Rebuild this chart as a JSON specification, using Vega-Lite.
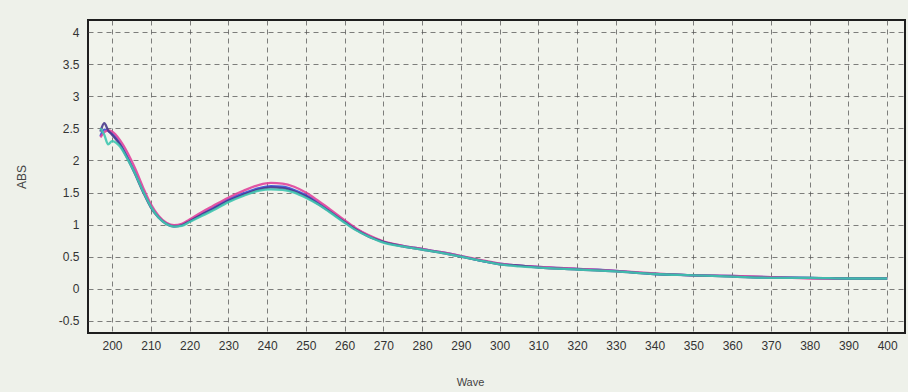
{
  "$schema": "https://vega.github.io/schema/vega-lite/v6.json",
  "width": 817,
  "height": 313,
  "autosize": {"type": "none"},
  "padding": {"left": 88, "top": 20, "right": 3, "bottom": 59},
  "background": "#eef1ea",
  "config": {
    "view": {"stroke": "#1e1e1e", "strokeWidth": 2, "fill": "#f1f3ec"},
    "axis": {
      "labelFont": "Liberation Sans",
      "titleFont": "Liberation Sans",
      "labelColor": "#333333",
      "titleColor": "#444444",
      "titleFontWeight": "normal",
      "gridColor": "#555555",
      "gridDash": [5, 4],
      "gridOpacity": 0.75,
      "gridWidth": 1,
      "domain": false,
      "ticks": false
    }
  },
  "data": {
    "values": [
      {"w":197,"a":2.38,"s":"B"},{"w":198,"a":2.48,"s":"B"},{"w":199,"a":2.46,"s":"B"},{"w":200,"a":2.42,"s":"B"},{"w":202,"a":2.27,"s":"B"},{"w":204,"a":2.05,"s":"B"},{"w":206,"a":1.80,"s":"B"},{"w":208,"a":1.53,"s":"B"},{"w":210,"a":1.29,"s":"B"},{"w":212,"a":1.12,"s":"B"},{"w":214,"a":1.02,"s":"B"},{"w":216,"a":0.98,"s":"B"},{"w":218,"a":1.00,"s":"B"},{"w":220,"a":1.06,"s":"B"},{"w":223,"a":1.16,"s":"B"},{"w":226,"a":1.26,"s":"B"},{"w":230,"a":1.39,"s":"B"},{"w":234,"a":1.49,"s":"B"},{"w":238,"a":1.57,"s":"B"},{"w":241,"a":1.60,"s":"B"},{"w":244,"a":1.59,"s":"B"},{"w":247,"a":1.54,"s":"B"},{"w":250,"a":1.46,"s":"B"},{"w":253,"a":1.35,"s":"B"},{"w":256,"a":1.22,"s":"B"},{"w":260,"a":1.05,"s":"B"},{"w":263,"a":0.93,"s":"B"},{"w":266,"a":0.83,"s":"B"},{"w":270,"a":0.73,"s":"B"},{"w":275,"a":0.67,"s":"B"},{"w":280,"a":0.62,"s":"B"},{"w":285,"a":0.57,"s":"B"},{"w":290,"a":0.51,"s":"B"},{"w":295,"a":0.44,"s":"B"},{"w":300,"a":0.39,"s":"B"},{"w":305,"a":0.36,"s":"B"},{"w":310,"a":0.34,"s":"B"},{"w":320,"a":0.31,"s":"B"},{"w":330,"a":0.28,"s":"B"},{"w":340,"a":0.23,"s":"B"},{"w":350,"a":0.21,"s":"B"},{"w":360,"a":0.20,"s":"B"},{"w":370,"a":0.18,"s":"B"},{"w":380,"a":0.17,"s":"B"},{"w":390,"a":0.16,"s":"B"},{"w":400,"a":0.16,"s":"B"},
      {"w":197,"a":2.36,"s":"P"},{"w":198,"a":2.44,"s":"P"},{"w":199,"a":2.47,"s":"P"},{"w":200,"a":2.45,"s":"P"},{"w":202,"a":2.32,"s":"P"},{"w":204,"a":2.12,"s":"P"},{"w":206,"a":1.87,"s":"P"},{"w":208,"a":1.58,"s":"P"},{"w":210,"a":1.32,"s":"P"},{"w":212,"a":1.14,"s":"P"},{"w":214,"a":1.03,"s":"P"},{"w":216,"a":0.99,"s":"P"},{"w":218,"a":1.01,"s":"P"},{"w":220,"a":1.08,"s":"P"},{"w":223,"a":1.19,"s":"P"},{"w":226,"a":1.29,"s":"P"},{"w":230,"a":1.42,"s":"P"},{"w":234,"a":1.53,"s":"P"},{"w":238,"a":1.62,"s":"P"},{"w":241,"a":1.65,"s":"P"},{"w":244,"a":1.64,"s":"P"},{"w":247,"a":1.59,"s":"P"},{"w":250,"a":1.50,"s":"P"},{"w":253,"a":1.38,"s":"P"},{"w":256,"a":1.25,"s":"P"},{"w":260,"a":1.07,"s":"P"},{"w":263,"a":0.94,"s":"P"},{"w":266,"a":0.84,"s":"P"},{"w":270,"a":0.74,"s":"P"},{"w":275,"a":0.67,"s":"P"},{"w":280,"a":0.62,"s":"P"},{"w":285,"a":0.57,"s":"P"},{"w":290,"a":0.51,"s":"P"},{"w":295,"a":0.45,"s":"P"},{"w":300,"a":0.39,"s":"P"},{"w":305,"a":0.36,"s":"P"},{"w":310,"a":0.34,"s":"P"},{"w":320,"a":0.31,"s":"P"},{"w":330,"a":0.28,"s":"P"},{"w":340,"a":0.24,"s":"P"},{"w":350,"a":0.21,"s":"P"},{"w":360,"a":0.20,"s":"P"},{"w":370,"a":0.18,"s":"P"},{"w":380,"a":0.16,"s":"P"},{"w":390,"a":0.16,"s":"P"},{"w":400,"a":0.16,"s":"P"},
      {"w":197,"a":2.45,"s":"N"},{"w":198,"a":2.58,"s":"N"},{"w":199,"a":2.47,"s":"N"},{"w":200,"a":2.40,"s":"N"},{"w":202,"a":2.25,"s":"N"},{"w":204,"a":2.03,"s":"N"},{"w":206,"a":1.78,"s":"N"},{"w":208,"a":1.51,"s":"N"},{"w":210,"a":1.27,"s":"N"},{"w":212,"a":1.11,"s":"N"},{"w":214,"a":1.01,"s":"N"},{"w":216,"a":0.97,"s":"N"},{"w":218,"a":0.99,"s":"N"},{"w":220,"a":1.05,"s":"N"},{"w":223,"a":1.15,"s":"N"},{"w":226,"a":1.24,"s":"N"},{"w":230,"a":1.37,"s":"N"},{"w":234,"a":1.47,"s":"N"},{"w":238,"a":1.55,"s":"N"},{"w":241,"a":1.58,"s":"N"},{"w":244,"a":1.57,"s":"N"},{"w":247,"a":1.52,"s":"N"},{"w":250,"a":1.44,"s":"N"},{"w":253,"a":1.33,"s":"N"},{"w":256,"a":1.21,"s":"N"},{"w":260,"a":1.04,"s":"N"},{"w":263,"a":0.92,"s":"N"},{"w":266,"a":0.82,"s":"N"},{"w":270,"a":0.73,"s":"N"},{"w":275,"a":0.66,"s":"N"},{"w":280,"a":0.61,"s":"N"},{"w":285,"a":0.56,"s":"N"},{"w":290,"a":0.50,"s":"N"},{"w":295,"a":0.44,"s":"N"},{"w":300,"a":0.38,"s":"N"},{"w":305,"a":0.36,"s":"N"},{"w":310,"a":0.33,"s":"N"},{"w":320,"a":0.30,"s":"N"},{"w":330,"a":0.27,"s":"N"},{"w":340,"a":0.23,"s":"N"},{"w":350,"a":0.21,"s":"N"},{"w":360,"a":0.19,"s":"N"},{"w":370,"a":0.17,"s":"N"},{"w":380,"a":0.17,"s":"N"},{"w":390,"a":0.16,"s":"N"},{"w":400,"a":0.16,"s":"N"},
      {"w":197,"a":2.50,"s":"T"},{"w":198,"a":2.40,"s":"T"},{"w":199,"a":2.25,"s":"T"},{"w":200,"a":2.30,"s":"T"},{"w":202,"a":2.22,"s":"T"},{"w":204,"a":2.02,"s":"T"},{"w":206,"a":1.79,"s":"T"},{"w":208,"a":1.52,"s":"T"},{"w":210,"a":1.28,"s":"T"},{"w":212,"a":1.11,"s":"T"},{"w":214,"a":1.01,"s":"T"},{"w":216,"a":0.97,"s":"T"},{"w":218,"a":0.98,"s":"T"},{"w":220,"a":1.04,"s":"T"},{"w":223,"a":1.13,"s":"T"},{"w":226,"a":1.22,"s":"T"},{"w":230,"a":1.35,"s":"T"},{"w":234,"a":1.45,"s":"T"},{"w":238,"a":1.53,"s":"T"},{"w":241,"a":1.55,"s":"T"},{"w":244,"a":1.54,"s":"T"},{"w":247,"a":1.50,"s":"T"},{"w":250,"a":1.42,"s":"T"},{"w":253,"a":1.32,"s":"T"},{"w":256,"a":1.20,"s":"T"},{"w":260,"a":1.03,"s":"T"},{"w":263,"a":0.91,"s":"T"},{"w":266,"a":0.82,"s":"T"},{"w":270,"a":0.72,"s":"T"},{"w":275,"a":0.66,"s":"T"},{"w":280,"a":0.61,"s":"T"},{"w":285,"a":0.56,"s":"T"},{"w":290,"a":0.50,"s":"T"},{"w":295,"a":0.44,"s":"T"},{"w":300,"a":0.38,"s":"T"},{"w":305,"a":0.35,"s":"T"},{"w":310,"a":0.33,"s":"T"},{"w":320,"a":0.30,"s":"T"},{"w":330,"a":0.27,"s":"T"},{"w":340,"a":0.23,"s":"T"},{"w":350,"a":0.21,"s":"T"},{"w":360,"a":0.19,"s":"T"},{"w":370,"a":0.17,"s":"T"},{"w":380,"a":0.17,"s":"T"},{"w":390,"a":0.16,"s":"T"},{"w":400,"a":0.16,"s":"T"}
    ]
  },
  "mark": {"type": "line", "strokeWidth": 2.3, "interpolate": "monotone", "clip": true, "opacity": 0.9},
  "encoding": {
    "x": {
      "field": "w",
      "type": "quantitative",
      "scale": {"domain": [193.8, 404.6], "nice": false, "zero": false},
      "axis": {
        "title": "Wave",
        "values": [200,210,220,230,240,250,260,270,280,290,300,310,320,330,340,350,360,370,380,390,400],
        "labelFontSize": 12,
        "labelPadding": 7,
        "titleFontSize": 11,
        "titlePadding": 25,
        "titleX": 382,
        "format": "d"
      }
    },
    "y": {
      "field": "a",
      "type": "quantitative",
      "scale": {"domain": [-0.69, 4.19], "nice": false, "zero": false},
      "axis": {
        "title": "ABS",
        "values": [-0.5,0,0.5,1,1.5,2,2.5,3,3.5,4],
        "labelFontSize": 12,
        "labelPadding": 9,
        "titleFontSize": 12,
        "titlePadding": 30,
        "format": "~g",
        "labelExpr": "replace(datum.label, '−', '-')"
      }
    },
    "color": {
      "field": "s",
      "type": "nominal",
      "sort": ["T", "N", "P", "B"],
      "scale": {"domain": ["T", "N", "P", "B"], "range": ["#3fc7b0", "#4a3a8c", "#e0449c", "#3b4fd6"]},
      "legend": null
    },
    "order": {"field": "s"}
  }
}
